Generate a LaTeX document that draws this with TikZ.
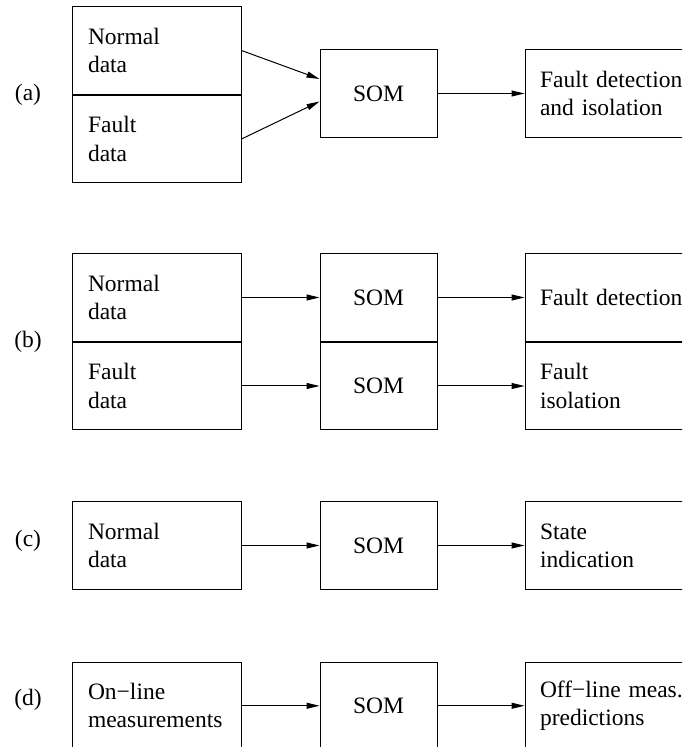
\documentclass[tikz,border=0pt]{standalone}
\usepackage{fontspec}
\setmainfont{Liberation Serif}
\usetikzlibrary{arrows.meta}
\tikzset{
	txt/.style={font=\fontsize{11.75}{14.15}\selectfont},
	box/.style={txt, draw, line width=0.5pt, minimum height=43.75pt},
	inbox/.style={box, text width=68.5pt, inner xsep=8pt, align=left},
	sombox/.style={box, minimum width=58.5pt, inner xsep=0pt, align=center},
	outbox/.style={box, text width=80pt, inner xsep=7.5pt, align=left},
	conn/.style={line width=0.5pt, -{Triangle[length=6.5pt,width=3pt]}}
}

\begin{document}
\begin{tikzpicture}[x=0.5pt, y=-0.5pt]
		\clip (0,0) rectangle (682,747);
		% (a)
		\node (la)[txt] at (28,95){(a)};
		\node (Na)[inbox] at (156.5,50.5){Normal\\data};
		\node (Fa)[inbox, anchor = north] at (Na.south){Fault\\data};
		\node (Sa)[sombox] at (378.5,93.5){SOM};
		\node (Ra)[outbox, anchor = west] at ([xshift=43.5pt]Sa.east){Fault detection\\and isolation};
		\draw[conn] (Na.east) -- ([yshift=7.25pt]Sa.west);
		\draw[conn] (Fa.east) -- ([yshift=-4pt]Sa.west);
		\draw[conn] (Sa.east) -- (Ra.west);
		%
		% (b)
		\node (lb)[txt] at (28,342){(b)};
		\node (Nb)[inbox] at (156.5,297.5){Normal\\data};
		\node (Fb)[inbox, anchor = north] at (Nb.south){Fault\\data};
		\node (Sb1)[sombox] at (378.5,297.5){SOM};
		\node (Sb2)[sombox, anchor = north] at (Sb1.south){SOM};
		\node (Rb1)[outbox, anchor = west] at ([xshift=43.5pt]Sb1.east){Fault detection};
		\node (Rb2)[outbox, anchor = west] at ([xshift=43.5pt]Sb2.east){Fault\\isolation};
		\draw[conn] (Nb.east) -- (Sb1.west);
		\draw[conn] (Fb.east) -- (Sb2.west);
		\draw[conn] (Sb1.east) -- (Rb1.west);
		\draw[conn] (Sb2.east) -- (Rb2.west);
		%
		% (c)
		\node (lc)[txt] at (28,541){(c)};
		\node (Nc)[inbox] at (156.5,545.5){Normal\\data};
		\node (Sc)[sombox] at (378.5,545.5){SOM};
		\node (Rc)[outbox, anchor = west] at ([xshift=43.5pt]Sc.east){State\\indication};
		\draw[conn] (Nc.east) -- (Sc.west);
		\draw[conn] (Sc.east) -- (Rc.west);
		%
		% (d)
		\node (ld)[txt] at (28,700){(d)};
		\node (Md)[inbox] at (156.5,705.75){On−line\\measurements};
		\node (Sd)[sombox] at (378.5,705.75){SOM};
		\node (Rd)[outbox, anchor = west] at ([xshift=43.5pt]Sd.east){Off−line meas.\\predictions};
		\draw[conn] (Md.east) -- (Sd.west);
		\draw[conn] (Sd.east) -- (Rd.west);
	\end{tikzpicture}
\end{document}
